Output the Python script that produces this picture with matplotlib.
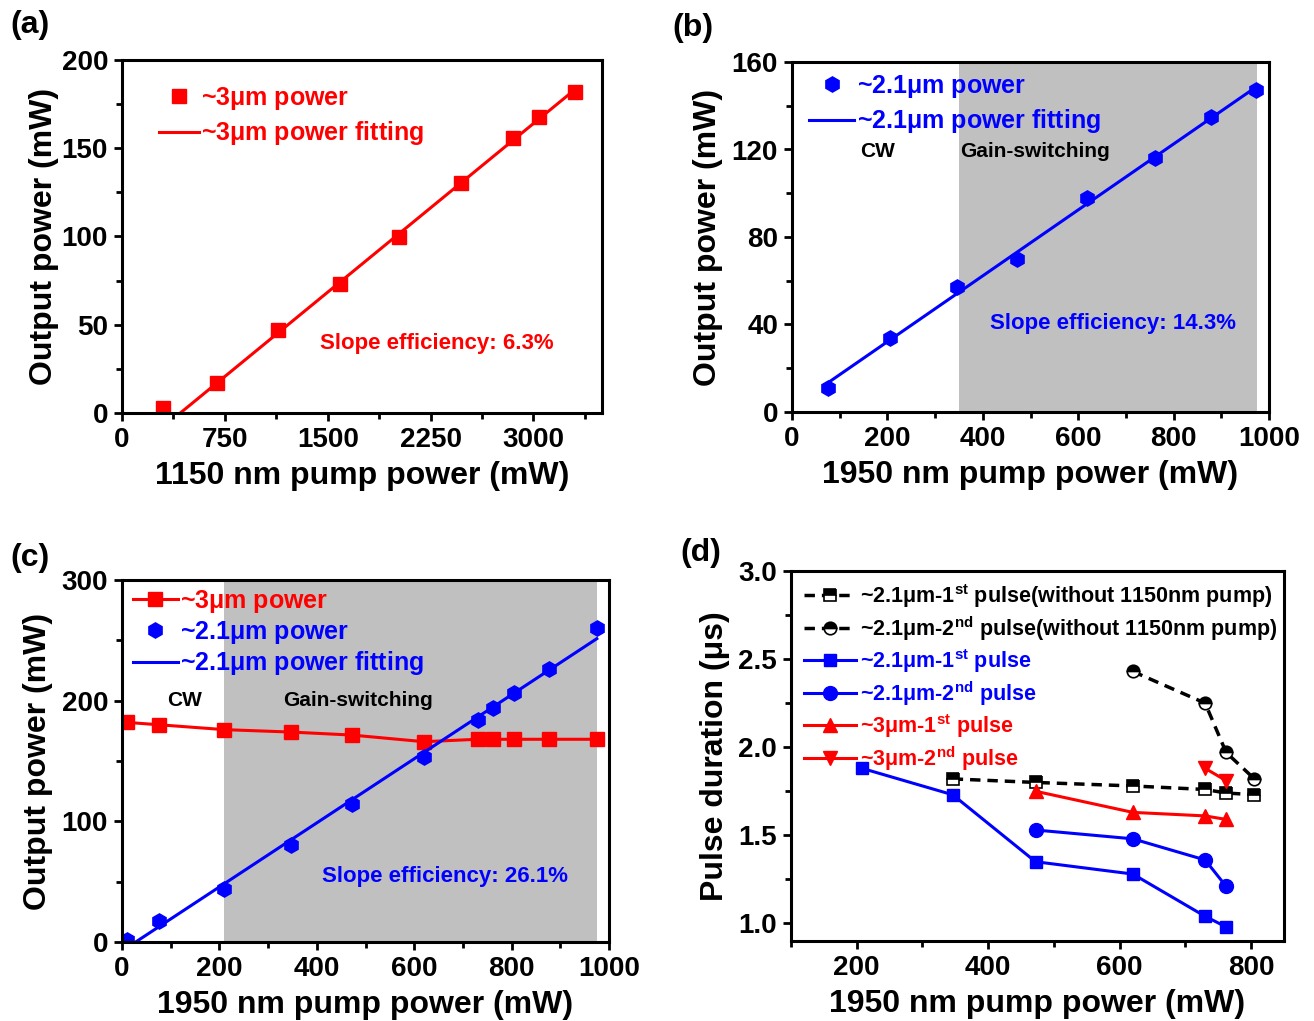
import matplotlib
matplotlib.use("Agg")
import matplotlib.pyplot as plt
import numpy as np
from matplotlib.ticker import MultipleLocator

plt.rcParams['font.family'] = ['Liberation Sans', 'DejaVu Sans']
plt.rcParams['font.weight'] = 'bold'
plt.rcParams['axes.labelweight'] = 'bold'
plt.rcParams['mathtext.fontset'] = 'custom'
plt.rcParams['mathtext.rm'] = 'Liberation Sans:bold'
plt.rcParams['mathtext.it'] = 'Liberation Sans:bold'
plt.rcParams['mathtext.bf'] = 'Liberation Sans:bold'

RED = '#ff0000'
BLUE = '#0000ff'
GRAY = '#c0c0c0'

# (a) ~3um output vs 1150 nm pump
a_pump = [300, 690, 1140, 1590, 2020, 2470, 2850, 3040, 3300]
a_power = [2.8, 17, 47, 73, 99.5, 130.5, 156, 167.5, 182]

# (b) ~2.1um output vs 1950 nm pump
b_pump = [75, 205, 346, 472, 618, 761, 878, 973]
b_power = [11, 34, 57, 70, 98, 116, 135, 147]

# (c) both outputs vs 1950 nm pump
c_pump = [10, 77, 210, 346, 472, 620, 730, 762, 805, 877, 975]
c_power_3um = [182, 180, 176, 174, 171.5, 166, 168, 168, 168, 168, 168]
c_power_21 = [2, 17, 44, 80, 114, 153, 184, 194, 206, 226, 260]

# (d) pulse durations
d_pump_nop1 = [346, 472, 620, 730, 762, 805]
d_nop1 = [1.82, 1.80, 1.78, 1.76, 1.74, 1.73]
d_pump_nop2 = [620, 730, 762, 805]
d_nop2 = [2.43, 2.25, 1.97, 1.82]
d_pump_b1 = [208, 346, 472, 620, 730, 762]
d_b1 = [1.88, 1.73, 1.35, 1.28, 1.04, 0.98]
d_pump_b2 = [472, 620, 730, 762]
d_b2 = [1.53, 1.48, 1.36, 1.21]
d_pump_r1 = [472, 620, 730, 762]
d_r1 = [1.75, 1.63, 1.61, 1.59]
d_pump_r2 = [730, 762]
d_r2 = [1.88, 1.81]

fig = plt.figure(figsize=(13.14, 10.21), dpi=100)
W, H = 1314, 1021


def add_ax(l, r, t, b):
    return fig.add_axes([l / W, 1 - b / H, (r - l) / W, (b - t) / H])


def style(ax):
    for s in ax.spines.values():
        s.set_linewidth(2.2)
    ax.tick_params(which='both', direction='out', width=2, labelsize=20)
    ax.tick_params(which='major', length=6, pad=4)
    ax.tick_params(which='minor', length=4)


ax_a = add_ax(122, 602, 60, 413)
ax_b = add_ax(792, 1269, 62, 412)
ax_c = add_ax(122, 609, 580, 942)
ax_d = add_ax(791, 1284, 571, 941)

LAB = dict(fontsize=23, labelpad=6)

# ---- (a)
fit_a = np.polyfit(a_pump[1:], a_power[1:], 1)
x0 = -fit_a[1] / fit_a[0]
xs = np.array([x0, a_pump[-1]])
ax_a.plot(a_pump, a_power, 's', color=RED, ms=10, label=r'~3$\mu$m power')
ax_a.plot(xs, np.polyval(fit_a, xs), '-', color=RED, lw=2.2, label=r'~3$\mu$m power fitting')
ax_a.set_xlim(0, 3500)
ax_a.set_ylim(0, 200)
ax_a.xaxis.set_major_locator(MultipleLocator(750))
ax_a.xaxis.set_minor_locator(MultipleLocator(375))
ax_a.yaxis.set_major_locator(MultipleLocator(50))
ax_a.yaxis.set_minor_locator(MultipleLocator(25))
ax_a.set_xlabel('1150 nm pump power (mW)', **LAB)
ax_a.set_ylabel('Output power (mW)', fontsize=23, labelpad=2)
ax_a.text(0.412, 0.198, 'Slope efficiency: 6.3%', color=RED, fontsize=16,
          transform=ax_a.transAxes, va='center')
ax_a.legend(loc='upper left', bbox_to_anchor=(0.05, 0.965), frameon=False,
            fontsize=18, handlelength=1.6, handletextpad=0.1, borderpad=0,
            labelspacing=0.3, labelcolor=[RED, RED])
style(ax_a)

# ---- (b)
fit_b = np.polyfit(b_pump, b_power, 1)
xs = np.array([b_pump[0], b_pump[-1]])
ax_b.axvspan(350, 975, color=GRAY, lw=0, zorder=0)
ax_b.plot(b_pump, b_power, 'h', color=BLUE, ms=11, label=r'~2.1$\mu$m power')
ax_b.plot(xs, np.polyval(fit_b, xs), '-', color=BLUE, lw=2.2, label=r'~2.1$\mu$m power fitting')
ax_b.set_xlim(0, 1000)
ax_b.set_ylim(0, 160)
ax_b.xaxis.set_major_locator(MultipleLocator(200))
ax_b.xaxis.set_minor_locator(MultipleLocator(100))
ax_b.yaxis.set_major_locator(MultipleLocator(40))
ax_b.yaxis.set_minor_locator(MultipleLocator(20))
ax_b.set_xlabel('1950 nm pump power (mW)', **LAB)
ax_b.set_ylabel('Output power (mW)', **LAB)
ax_b.text(180, 119, 'CW', fontsize=15, ha='center', va='center')
ax_b.text(353, 119, 'Gain-switching', fontsize=15, ha='left', va='center')
ax_b.text(0.415, 0.254, 'Slope efficiency: 14.3%', color=BLUE, fontsize=16,
          transform=ax_b.transAxes, va='center')
ax_b.legend(loc='upper left', bbox_to_anchor=(0.01, 1.005), frameon=False,
            fontsize=18, handlelength=1.8, handletextpad=0.1, borderpad=0,
            labelspacing=0.3, labelcolor=[BLUE, BLUE])
style(ax_b)

# ---- (c)
fit_c = np.polyfit(c_pump, c_power_21, 1)
x0 = -fit_c[1] / fit_c[0]
xs = np.array([x0, c_pump[-1]])
ax_c.axvspan(210, 975, color=GRAY, lw=0, zorder=0)
ax_c.plot(c_pump, c_power_3um, 's-', color=RED, ms=10, lw=2.2, label=r'~3$\mu$m power')
ax_c.plot(c_pump, c_power_21, 'h', color=BLUE, ms=11, label=r'~2.1$\mu$m power')
ax_c.plot(xs, np.polyval(fit_c, xs), '-', color=BLUE, lw=2.2, label=r'~2.1$\mu$m power fitting')
ax_c.set_xlim(0, 1000)
ax_c.set_ylim(0, 300)
ax_c.xaxis.set_major_locator(MultipleLocator(200))
ax_c.xaxis.set_minor_locator(MultipleLocator(100))
ax_c.yaxis.set_major_locator(MultipleLocator(100))
ax_c.yaxis.set_minor_locator(MultipleLocator(50))
ax_c.set_xlabel('1950 nm pump power (mW)', **LAB)
ax_c.set_ylabel('Output power (mW)', **LAB)
ax_c.text(129, 200, 'CW', fontsize=15, ha='center', va='center')
ax_c.text(485, 200, 'Gain-switching', fontsize=15, ha='center', va='center')
ax_c.text(0.411, 0.18, 'Slope efficiency: 26.1%', color=BLUE, fontsize=16,
          transform=ax_c.transAxes, va='center')
ax_c.legend(loc='upper left', bbox_to_anchor=(-0.004, 1.013), frameon=False,
            fontsize=18, handlelength=1.8, handletextpad=0.1, borderpad=0,
            labelspacing=0.15, labelcolor=[RED, BLUE, BLUE])
style(ax_c)

# ---- (d)
dash = (0, (3, 2))
half = dict(fillstyle='top', markerfacecolor='black', markerfacecoloralt='white',
            markeredgecolor='black', markeredgewidth=1.2)
ax_d.plot(d_pump_nop1, d_nop1, marker='s', ls=dash, color='black', lw=2.5, ms=9, **half,
          label=r'~2.1$\mu$m-1$^{\rm st}$ pulse(without 1150nm pump)')
ax_d.plot(d_pump_nop2, d_nop2, marker='o', ls=dash, color='black', lw=2.5, ms=9, **half,
          label=r'~2.1$\mu$m-2$^{\rm nd}$ pulse(without 1150nm pump)')
ax_d.plot(d_pump_b1, d_b1, 's-', color=BLUE, lw=2.2, ms=9, label=r'~2.1$\mu$m-1$^{\rm st}$ pulse')
ax_d.plot(d_pump_b2, d_b2, 'o-', color=BLUE, lw=2.2, ms=10, label=r'~2.1$\mu$m-2$^{\rm nd}$ pulse')
ax_d.plot(d_pump_r1, d_r1, '^-', color=RED, lw=2.2, ms=10, label=r'~3$\mu$m-1$^{\rm st}$ pulse')
ax_d.plot(d_pump_r2, d_r2, 'v-', color=RED, lw=2.2, ms=10, label=r'~3$\mu$m-2$^{\rm nd}$ pulse')
ax_d.set_xlim(100, 850)
ax_d.set_ylim(0.9, 3.0)
ax_d.xaxis.set_major_locator(MultipleLocator(200))
ax_d.xaxis.set_minor_locator(MultipleLocator(100))
ax_d.yaxis.set_major_locator(MultipleLocator(0.5))
ax_d.yaxis.set_minor_locator(MultipleLocator(0.25))
ax_d.yaxis.set_major_formatter(plt.FormatStrFormatter('%.1f'))
ax_d.set_xlabel('1950 nm pump power (mW)', **LAB)
ax_d.set_ylabel('Pulse duration (μs)', **LAB)
ax_d.legend(loc='upper left', bbox_to_anchor=(0.005, 1.0), frameon=False,
            fontsize=15.5, handlelength=2.4, handletextpad=0.2, borderpad=0,
            labelspacing=0.2,
            labelcolor=['black', 'black', BLUE, BLUE, RED, RED])
style(ax_d)

for lab, x, y in [('(a)', 10, 25), ('(b)', 672, 28), ('(c)', 10, 558), ('(d)', 680, 553)]:
    fig.text(x / W, 1 - y / H, lab, fontsize=23, va='center', ha='left')

fig.savefig('out.png', dpi=100)
